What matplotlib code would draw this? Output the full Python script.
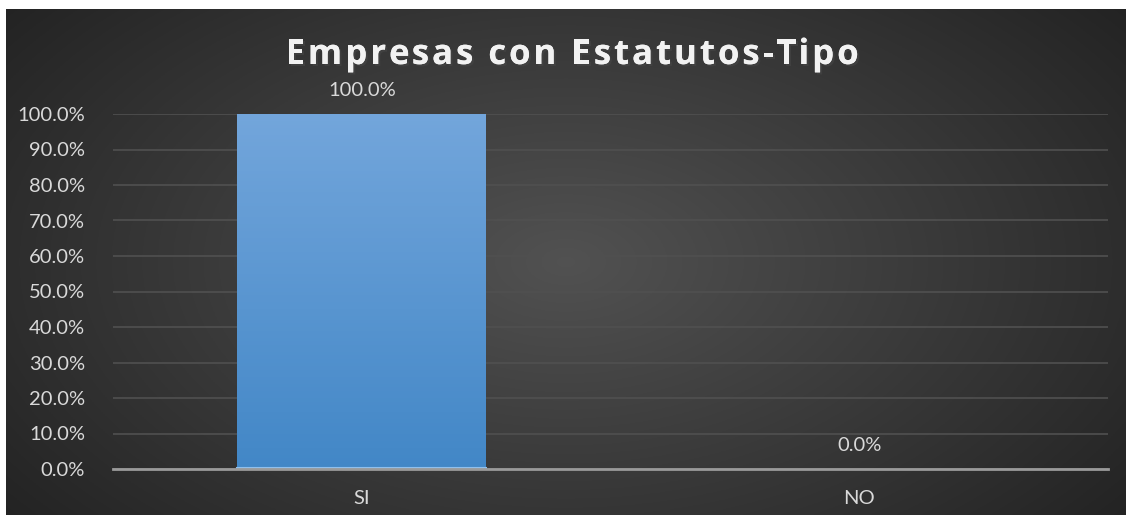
import numpy as np
import matplotlib.pyplot as plt
import matplotlib.patheffects as pe
from matplotlib.ticker import PercentFormatter

categories = ['SI', 'NO']
values = [100.0, 0.0]
yticks = [0, 10, 20, 30, 40, 50, 60, 70, 80, 90, 100]
title = 'Empresas con Estatutos-Tipo'

W, H = 1126, 515
fig = plt.figure(figsize=(W / 100, H / 100), dpi=100)
fig.patch.set_facecolor('white')

# dark radial background (chart area starts a few px in from the left/top)
bg = fig.add_axes([6 / W, 0, (W - 6) / W, (H - 9) / H], zorder=0)
yy, xx = np.mgrid[0:1:300j, 0:1:600j]
r = np.sqrt(((xx - 0.5) / 0.7) ** 2 + ((yy - 0.5) / 0.9) ** 2)
shade = np.clip(0.32 - 0.20 * r, 0.14, 0.32)
bg.imshow(np.dstack([shade] * 3), aspect='auto', extent=[0, 1, 0, 1])
bg.axis('off')

ax = fig.add_axes([113 / W, (H - 469) / H, (1108 - 113) / W, (469 - 114) / H], zorder=1)
ax.patch.set_alpha(0)

x = np.arange(len(categories))
bars = ax.bar(x, values, width=0.5, color='none', zorder=3)

# bar gradient
grad = np.linspace(0, 1, 100).reshape(-1, 1)
top = np.array([0.45, 0.65, 0.86])
bot = np.array([0.26, 0.53, 0.78])
cols = bot + (top - bot) * grad
for b in bars:
    if b.get_height() > 0:
        x0 = b.get_x()
        ax.imshow(cols[:, None, :].repeat(2, axis=1), origin='lower', aspect='auto',
                  extent=[x0, x0 + b.get_width(), 0, b.get_height()], zorder=3)
        ax.plot([x0, x0 + b.get_width()], [0.4, 0.4], color='#8fc0ee', lw=1.5, zorder=4)

ax.set_xlim(-0.5, 1.5)
ax.set_ylim(0, 100)

for xi, v in zip(x, values):
    ax.annotate(f'{v:.1f}%', (xi, v), xytext=(0, 11), textcoords='offset points',
                ha='center', va='bottom', color='#d9d9d9', fontsize=14.5, family='Lato')

ax.set_yticks(yticks)
ax.yaxis.set_major_formatter(PercentFormatter(decimals=1))
ax.set_xticks(x)
ax.set_xticklabels(categories)
ax.tick_params(axis='both', length=0, colors='#d9d9d9', labelsize=14.5)
ax.tick_params(axis='y', pad=20)
ax.tick_params(axis='x', pad=15)
for lbl in ax.get_xticklabels() + ax.get_yticklabels():
    lbl.set_family('Lato')

ax.grid(axis='y', color='#505050', lw=1.2, zorder=0)
for s in ['top', 'right', 'left']:
    ax.spines[s].set_visible(False)
ax.spines['bottom'].set_color('#9a9a9a')
ax.spines['bottom'].set_linewidth(2)
ax.spines['bottom'].set_zorder(5)

# title with letter spacing, drawn char by char
renderer = fig.canvas.get_renderer()
tkw = dict(color='#f2f2f2', fontsize=25, fontweight='bold', family='Open Sans',
           va='center', ha='left',
           path_effects=[pe.withSimplePatchShadow(offset=(1.5, -1.5), alpha=0.5), pe.Normal()])
spacing = 3.0
probe = fig.text(0, 0, title, **tkw)
full_w = probe.get_window_extent(renderer).width
probe.remove()
total = full_w + spacing * (len(title) - 1)
x_start = 572 - total / 2
y_title = H - 55
for i, ch in enumerate(title):
    if i:
        p = fig.text(0, 0, title[:i], **tkw)
        pw = p.get_window_extent(renderer).width
        p.remove()
    else:
        pw = 0
    fig.text((x_start + pw + spacing * i) / W, y_title / H, ch, **tkw)

fig.savefig('out.png', dpi=100, facecolor=fig.get_facecolor())
